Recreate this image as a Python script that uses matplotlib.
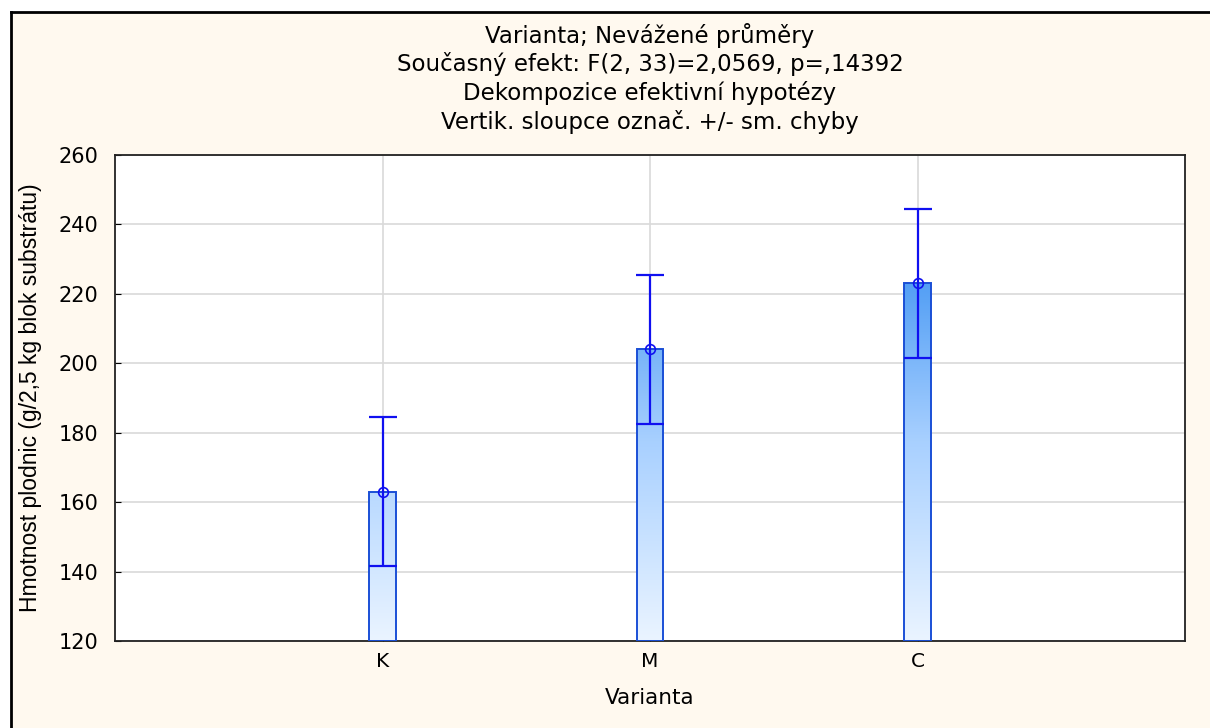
import matplotlib
matplotlib.use('Agg')
import matplotlib.pyplot as plt
import numpy as np
from matplotlib.colors import LinearSegmentedColormap
from matplotlib.lines import Line2D

# data
categories = ['K', 'M', 'C']
means = [163.0, 204.0, 223.0]
std_err = [21.5, 21.5, 21.5]

title_lines = ['Varianta; Nevážené průměry',
               'Současný efekt: F(2, 33)=2,0569, p=,14392',
               'Dekompozice efektivní hypotézy',
               'Vertik. sloupce označ. +/- sm. chyby']

plt.rcParams['font.family'] = ['DejaVu Sans']
cream = '#fff9ef'

fig = plt.figure(figsize=(12.1, 7.28), dpi=100)
fig.patch.set_facecolor('white')
# cream panel with black top/left border
fig.patches.append(plt.Rectangle((11 / 1210, 0), 1, (728 - 12) / 728,
                                 transform=fig.transFigure, facecolor=cream,
                                 edgecolor='none', zorder=-5))
fig.lines.append(Line2D([11 / 1210, 1], [(728 - 12) / 728] * 2,
                        transform=fig.transFigure, color='black', lw=2, zorder=-4))
fig.lines.append(Line2D([11 / 1210] * 2, [0, (728 - 12) / 728],
                        transform=fig.transFigure, color='black', lw=2, zorder=-4))

ax = fig.add_axes([115 / 1210, 1 - 641 / 728, 1070 / 1210, 486 / 728])
ax.set_zorder(1)
ax.set_facecolor('white')

x = np.arange(1, len(categories) + 1)
ax.set_yticks(np.arange(120, 261, 20))
ax.set_xticks(x)
ax.set_xticklabels(categories)
ax.grid(True, color='#d9d9d9', lw=1.2, zorder=0)
ax.set_axisbelow(True)
ax.tick_params(direction='in', length=4, labelsize=14.5, colors='black', pad=8)
ax.tick_params(axis='y', labelsize=15, pad=12)
for s in ax.spines.values():
    s.set_color('#222222')
    s.set_linewidth(1.3)

cmap = LinearSegmentedColormap.from_list('bl', ['#eaf4ff', '#a8d0ff', '#3d92f2'])
grad = np.linspace(0, 1, 256).reshape(-1, 1)
w = 0.1
for xi, m in zip(x, means):
    bar = ax.bar(xi, m - 120, bottom=120, width=w, color='none',
                 edgecolor='#1a4fd6', lw=1.4, zorder=3)[0]
    im = ax.imshow(grad, cmap=cmap, origin='lower', aspect='auto',
                   extent=(xi - w / 2, xi + w / 2, 120, 235), zorder=2)
    im.set_clip_path(bar)

ax.errorbar(x, means, yerr=std_err, fmt='none', ecolor='#1010f0',
            elinewidth=1.6, capsize=10, capthick=1.6, zorder=4)
ax.plot(x, means, 'o', ms=7, mfc='none', mec='#1010f0', mew=1.2, zorder=5)
ax.set_xlim(0, 4)
ax.set_ylim(120, 260)

for i, t in enumerate(title_lines):
    fig.text(650 / 1210, 1 - (35 + i * 29) / 728, t, ha='center', va='center',
             fontsize=16.5)

fig.text(650 / 1210, 1 - 698 / 728, 'Varianta', ha='center', va='center',
         fontsize=15.5)
fig.text(31 / 1210, 1 - 398 / 728, 'Hmotnost plodnic (g/2,5 kg blok substrátu)',
         rotation=90, ha='center', va='center', fontsize=16.5,
         family=['Liberation Sans Narrow', 'Liberation Sans', 'DejaVu Sans'])

fig.savefig('out.png', dpi=100, facecolor=fig.get_facecolor())
